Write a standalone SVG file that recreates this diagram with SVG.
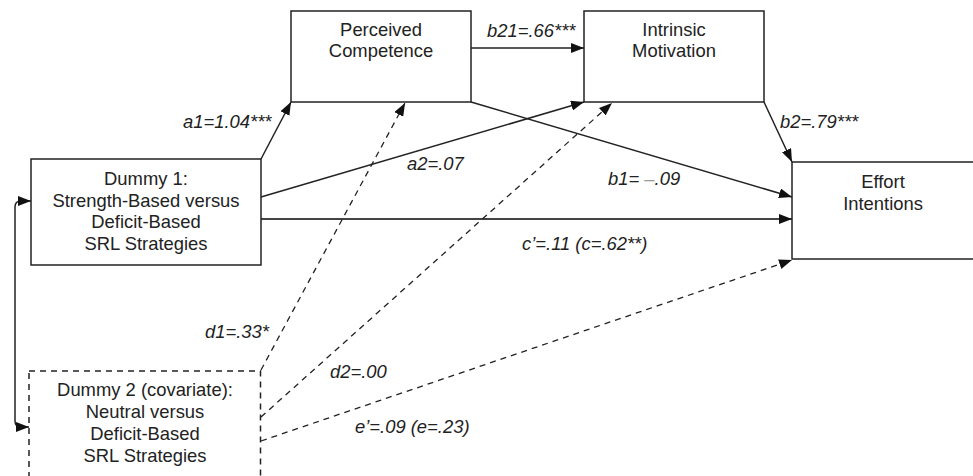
<svg xmlns="http://www.w3.org/2000/svg" width="973" height="476" viewBox="0 0 973 476">
<style>
.box{fill:#fff;stroke:#222;stroke-width:1.5}
.dbox{fill:#fff;stroke:#222;stroke-width:1.5;stroke-dasharray:6 5}
.t{font-family:"Liberation Sans",Arial,sans-serif;font-size:18.4px;fill:#222;text-anchor:middle}
.l{font-family:"Liberation Sans",Arial,sans-serif;font-size:18.4px;font-style:italic;fill:#222}
.c{fill:none;stroke:#222;stroke-width:1.5}
.d{fill:none;stroke:#222;stroke-width:1.3;stroke-dasharray:6 5}
</style>
<defs>
<marker id="ah" viewBox="0 0 13 10" refX="13" refY="5" markerWidth="13" markerHeight="10" orient="auto-start-reverse" markerUnits="userSpaceOnUse">
<path d="M0,0 L13,5 L0,10 z" fill="#111"/>
</marker>
</defs>
<g id="connectors">
<line class="c" x1="261" y1="159" x2="291" y2="102" marker-end="url(#ah)"/>
<line class="c" x1="471" y1="48" x2="584" y2="48" marker-end="url(#ah)"/>
<line class="c" x1="261" y1="197" x2="584" y2="102" marker-end="url(#ah)"/>
<line class="c" x1="471" y1="102" x2="792" y2="197" marker-end="url(#ah)"/>
<line class="c" x1="764" y1="102" x2="792" y2="162" marker-end="url(#ah)"/>
<line class="c" x1="261" y1="219" x2="792" y2="219" style="stroke:#444;stroke-width:1.8" marker-end="url(#ah)"/>
<line class="d" x1="261" y1="370" x2="405" y2="103" marker-end="url(#ah)"/>
<line class="d" x1="261" y1="417" x2="612" y2="103" marker-end="url(#ah)"/>
<line class="d" x1="261" y1="441" x2="792" y2="260" marker-end="url(#ah)"/>
<path class="c" d="M31,201 H21 Q15,201 15,207 V421 Q15,427 21,427 H29" marker-start="url(#ah)" marker-end="url(#ah)"/>
<text class="l" x="183" y="128">a1=1.04***</text>
<text class="l" x="487" y="37">b21=.66***</text>
<text class="l" x="407" y="170">a2=.07</text>
<text class="l" x="608" y="185">b1= <tspan fill="#999">–</tspan>.09</text>
<text class="l" x="780" y="128">b2=.79***</text>
<text class="l" x="522" y="250">c’=.11 (c=.62**)</text>
<text class="l" x="205" y="338">d1=.33*</text>
<text class="l" x="330" y="378">d2=.00</text>
<text class="l" x="355" y="433">e’=.09 (e=.23)</text>
</g>
<g id="pc">
<rect class="box" x="291" y="11" width="180" height="91"/>
<text class="t" x="381" y="36">Perceived</text>
<text class="t" x="381" y="57">Competence</text>
</g>
<g id="im">
<rect class="box" x="584" y="11" width="180" height="91"/>
<text class="t" x="674" y="36">Intrinsic</text>
<text class="t" x="674" y="57">Motivation</text>
</g>
<g id="ei">
<rect class="box" x="792" y="162" width="200" height="97"/>
<text class="t" x="883" y="188">Effort</text>
<text class="t" x="883" y="210">Intentions</text>
</g>
<g id="d1">
<rect class="box" x="31" y="159" width="230" height="106"/>
<text class="t" x="146" y="185">Dummy 1:</text>
<text class="t" x="146" y="207">Strength-Based versus</text>
<text class="t" x="146" y="228">Deficit-Based</text>
<text class="t" x="146" y="250">SRL Strategies</text>
</g>
<g id="d2">
<rect class="dbox" x="29" y="371" width="231.5" height="130"/>
<text class="t" x="145" y="396">Dummy 2 (covariate):</text>
<text class="t" x="145" y="418">Neutral versus</text>
<text class="t" x="145" y="440">Deficit-Based</text>
<text class="t" x="145" y="462">SRL Strategies</text>
</g>
</svg>
